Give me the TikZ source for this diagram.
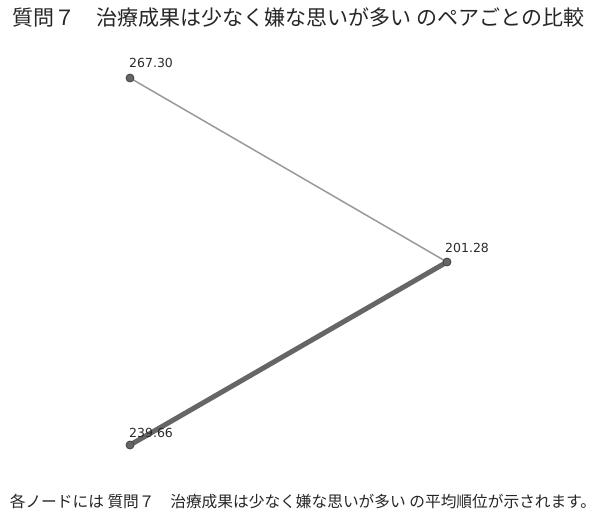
\documentclass[tikz,border=0pt]{standalone}
\usepackage{fontspec}
\setmainfont{DejaVu Sans}
\newfontfamily\jpfont{Noto Sans CJK JP}
\definecolor{nodefill}{HTML}{666666}
\definecolor{nodeedge}{HTML}{444444}
\definecolor{thinedge}{HTML}{999999}
\definecolor{thickedge}{HTML}{666666}
\definecolor{labelcol}{HTML}{2A2A2A}
\begin{document}
\begin{tikzpicture}[x=1pt,y=-1pt,
  vertex/.style={circle,fill=nodefill,draw=nodeedge,line width=0.8pt,minimum size=8pt,inner sep=0pt},
  vlabel/.style={anchor=base west,inner sep=0pt,font=\fontsize{12.5}{14}\selectfont,text=labelcol},
  thinline/.style={draw=thinedge,line width=1.5pt},
  thickline/.style={draw=thickedge,line width=5pt}]
\useasboundingbox (0,0) rectangle (599,517);
\node[anchor=center,font=\jpfont\fontsize{21}{24}\selectfont,text=black!85] (title) at (298.5,18) {質問７　治療成果は少なく嫌な思いが多い のペアごとの比較};
\coordinate (pa) at (130,78);
\coordinate (pb) at (447,262);
\coordinate (pc) at (130,445);
\draw[thinline] (pa) -- (pb);
\draw[thickline] (pb) -- (pc);
\node[vertex] (a) at (pa) {};
\node[vertex] (b) at (pb) {};
\node[vertex] (c) at (pc) {};
\node[vlabel] (la) at (129,67) {267.30};
\node[vlabel] (lb) at (445,252) {201.28};
\node[vlabel] (lc) at (129,437) {239.66};
\node[anchor=center,font=\jpfont\fontsize{15.7}{18}\selectfont,text=black!85] (foot) at (303,502) {各ノードには 質問７　治療成果は少なく嫌な思いが多い の平均順位が示されます。};
\end{tikzpicture}
\end{document}
